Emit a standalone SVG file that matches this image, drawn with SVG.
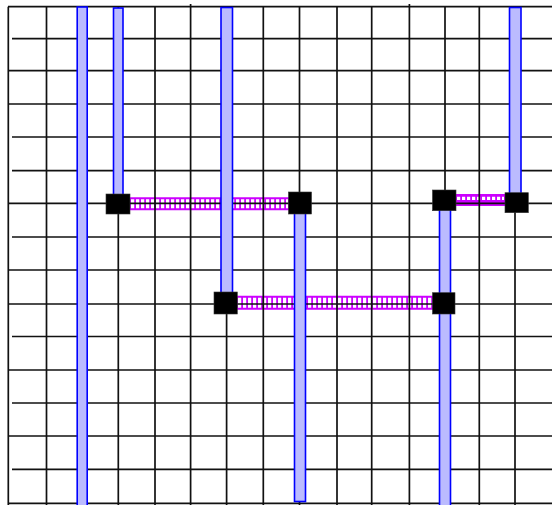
<svg xmlns="http://www.w3.org/2000/svg" width="552" height="505" viewBox="0 0 552 505">
<style>
.g line{stroke:#111;stroke-width:1.7}
.w{fill:#bbbbff;stroke:#0000ff;stroke-width:1.6}
.n{fill:#000;stroke:#333;stroke-width:0.6}
.cm{stroke:#cc00ff;fill:none}
.cw{stroke:#fff;fill:none;stroke-dasharray:3.2 1.8}
</style>
<rect width="552" height="505" fill="#fff"/>
<g id="connectors">
<g id="c1"><line class="cm" x1="130" y1="203.7" x2="289" y2="203.7" stroke-width="13"/><line class="cw" x1="131" y1="203.7" x2="288" y2="203.7" stroke-width="9"/></g>
<g id="c2"><line class="cm" x1="237" y1="302.8" x2="433" y2="302.8" stroke-width="14"/><line class="cw" x1="238" y1="302.8" x2="432" y2="302.8" stroke-width="10"/></g>
<g id="c3"><line class="cm" x1="455" y1="200" x2="506" y2="200" stroke-width="12"/><line class="cw" x1="457" y1="198.4" x2="504" y2="198.4" stroke-width="3.4"/></g>
</g>
<g id="grid" class="g">
<line x1="8.3" y1="6.7" x2="8.3" y2="505"/>
<line x1="46.5" y1="6.7" x2="46.5" y2="505"/>
<line x1="82" y1="6.7" x2="82" y2="505"/>
<line x1="118.3" y1="6.7" x2="118.3" y2="505"/>
<line x1="155" y1="6.7" x2="155" y2="505"/>
<line x1="190.6" y1="4" x2="190.6" y2="505"/>
<line x1="226.6" y1="6.7" x2="226.6" y2="505"/>
<line x1="263.3" y1="6.7" x2="263.3" y2="505"/>
<line x1="299.5" y1="6.7" x2="299.5" y2="505"/>
<line x1="337" y1="6.7" x2="337" y2="505"/>
<line x1="371.7" y1="6.7" x2="371.7" y2="505"/>
<line x1="409.4" y1="4" x2="409.4" y2="505"/>
<line x1="445" y1="6.7" x2="445" y2="505"/>
<line x1="479.3" y1="6.7" x2="479.3" y2="505"/>
<line x1="515" y1="6.7" x2="515" y2="505"/>
<line x1="8" y1="6.7" x2="552" y2="6.7"/>
<line x1="12" y1="38.7" x2="552" y2="38.7"/>
<line x1="8" y1="70.7" x2="552" y2="70.7"/>
<line x1="8" y1="104" x2="552" y2="104"/>
<line x1="12" y1="137" x2="552" y2="137"/>
<line x1="12" y1="170.7" x2="552" y2="170.7"/>
<line x1="8" y1="203.4" x2="552" y2="203.4"/>
<line x1="12" y1="237" x2="552" y2="237"/>
<line x1="8" y1="270" x2="552" y2="270"/>
<line x1="8" y1="304" x2="552" y2="304"/>
<line x1="12" y1="336.5" x2="552" y2="336.5"/>
<line x1="8" y1="370" x2="552" y2="370"/>
<line x1="12" y1="403" x2="552" y2="403"/>
<line x1="8" y1="436" x2="552" y2="436"/>
<line x1="12" y1="469.3" x2="552" y2="469.3"/>
<line x1="8" y1="503.3" x2="552" y2="503.3"/>
</g>
<g id="wires">
<rect id="w1" class="w" x="77.2" y="7" width="10" height="500"/>
<rect id="w2" class="w" x="113.5" y="8" width="9.5" height="196"/>
<rect id="w3" class="w" x="221" y="7.5" width="11.5" height="296"/>
<rect id="w4" class="w" x="294.5" y="203" width="11" height="298.5"/>
<rect id="w5" class="w" x="439.5" y="200" width="11" height="306"/>
<rect id="w6" class="w" x="509.5" y="7.5" width="11.5" height="195"/>
</g>
<g id="nodeA"><rect class="n" x="106" y="194" width="24" height="20"/></g>
<g id="nodeB"><rect class="n" x="288.5" y="192" width="23" height="22"/></g>
<g id="nodeC"><rect class="n" x="432.5" y="190" width="23.5" height="20.7"/></g>
<g id="nodeD"><rect class="n" x="505" y="192.7" width="23.3" height="20"/></g>
<g id="nodeE"><rect class="n" x="214" y="292" width="23.3" height="22"/></g>
<g id="nodeF"><rect class="n" x="432.5" y="292.7" width="22.5" height="21.3"/></g>
</svg>
